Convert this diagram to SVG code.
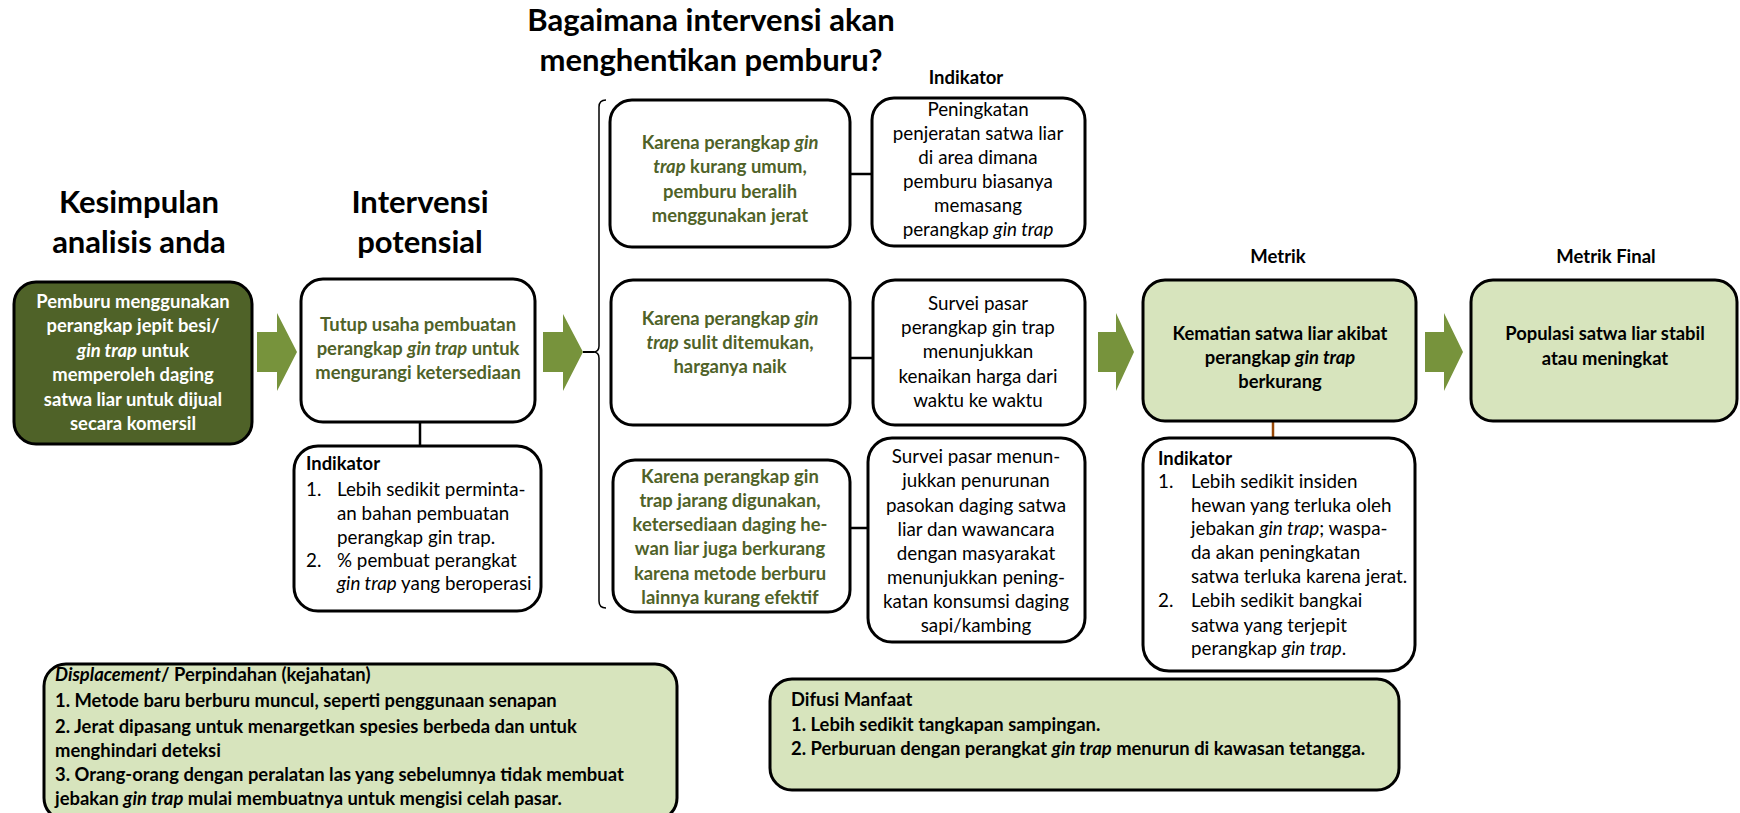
<svg xmlns="http://www.w3.org/2000/svg" width="1740" height="813" viewBox="0 0 1740 813">
  <defs>
    <style>
      text { font-family: Lato, "Open Sans", sans-serif; }
      .h1 { font-size: 31px; font-weight: bold; fill: #000; text-anchor: middle; }
      .h2 { font-size: 18.5px; font-weight: bold; fill: #000; text-anchor: middle; }
      .box { stroke: #000; stroke-width: 3; fill: #fff; }
      .dark { fill: #4f6228; }
      .light { fill: #d7e4bd; }
      .wt { font-size: 18.4px; font-weight: bold; fill: #fff; text-anchor: middle; }
      .gt { font-size: 18.4px; font-weight: bold; fill: #4f6228; text-anchor: middle; }
      .bt { font-size: 18.4px; font-weight: bold; fill: #000; text-anchor: middle; }
      .nt { font-size: 18.8px; fill: #000; text-anchor: middle; }
      .lt { font-size: 18.8px; fill: #000; }
      .lb { font-size: 18.4px; font-weight: bold; fill: #000; }
      .arrow { fill: #77933c; }
      .link { stroke: #000; stroke-width: 2.5; fill: none; }
      .it { font-style: italic; }
    </style>
  </defs>

  <!-- column headings -->
  <g id="headings">
    <text class="h1" x="139" y="213">Kesimpulan</text>
    <text class="h1" x="139" y="253">analisis anda</text>
    <text class="h1" x="420" y="213">Intervensi</text>
    <text class="h1" x="420" y="253">potensial</text>
    <text class="h1" x="711" y="31">Bagaimana intervensi akan</text>
    <text class="h1" x="711" y="71">menghentikan pemburu?</text>
    <text class="h2" x="966" y="84">Indikator</text>
    <text class="h2" x="1278" y="263">Metrik</text>
    <text class="h2" x="1606" y="263">Metrik Final</text>
  </g>

  <!-- connectors: block arrows, bracket and joining lines -->
  <g id="connectors">
    <path class="arrow" d="M257 332 H277 V313 L297 352 L277 391 V372 H257 Z"/>
    <path class="arrow" d="M543 332 H563 V314 L583 352 L563 391 V372 H543 Z"/>
    <path class="arrow" d="M1098 332 H1116 V313 L1134 352 L1116 391 V372 H1098 Z"/>
    <path class="arrow" d="M1425 332 H1444 V313 L1463 352 L1444 391 V372 H1425 Z"/>
    <path d="M606 100 Q599 100 599 107 V346 Q599 352 593 352 Q599 352 599 358 V601 Q599 608 606 608" stroke="#000" stroke-width="1.5" fill="none"/>
    <line x1="583" y1="352" x2="594" y2="352" stroke="#000" stroke-width="2"/>
    <line class="link" x1="420" y1="422" x2="420" y2="446"/>
    <line class="link" x1="850" y1="174" x2="872" y2="174"/>
    <line class="link" x1="850" y1="358" x2="873" y2="358"/>
    <line class="link" x1="850" y1="528" x2="868" y2="528"/>
    <line x1="1273" y1="421" x2="1273" y2="438" stroke="#984807" stroke-width="2.5"/>
  </g>

  <g id="conclusion">
    <rect class="box dark" x="14" y="282" width="238" height="162" rx="22"/>
    <text class="wt" x="133" y="308">Pemburu menggunakan</text>
    <text class="wt" x="133" y="332">perangkap jepit besi/</text>
    <text class="wt" x="133" y="357"><tspan class="it">gin trap</tspan> untuk</text>
    <text class="wt" x="133" y="381">memperoleh daging</text>
    <text class="wt" x="133" y="406">satwa liar untuk dijual</text>
    <text class="wt" x="133" y="430">secara komersil</text>
  </g>

  <g id="intervention">
    <rect class="box" x="301" y="279" width="234" height="143" rx="22"/>
    <text class="gt" x="418" y="331">Tutup usaha pembuatan</text>
    <text class="gt" x="418" y="355">perangkap <tspan class="it">gin trap</tspan> untuk</text>
    <text class="gt" x="418" y="379">mengurangi ketersediaan</text>
  </g>

  <g id="intervention-indicator">
    <rect class="box" x="294" y="446" width="247" height="165" rx="24"/>
    <text class="lb" x="306" y="470">Indikator</text>
    <text class="lt" x="306" y="496">1.</text>
    <text class="lt" x="337" y="496">Lebih sedikit perminta-</text>
    <text class="lt" x="337" y="520">an bahan pembuatan</text>
    <text class="lt" x="337" y="544">perangkap gin trap.</text>
    <text class="lt" x="306" y="567">2.</text>
    <text class="lt" x="337" y="567">% pembuat perangkat</text>
    <text class="lt" x="337" y="590"><tspan class="it">gin trap</tspan> yang beroperasi</text>
  </g>

  <g id="mechanism-1">
    <rect class="box" x="610" y="100" width="240" height="147" rx="22"/>
    <text class="gt" x="730" y="149">Karena perangkap <tspan class="it">gin</tspan></text>
    <text class="gt" x="730" y="173"><tspan class="it">trap</tspan> kurang umum,</text>
    <text class="gt" x="730" y="198">pemburu beralih</text>
    <text class="gt" x="730" y="222">menggunakan jerat</text>
  </g>

  <g id="indicator-1">
    <rect class="box" x="872" y="98" width="213" height="148" rx="22"/>
    <text class="nt" x="978" y="116">Peningkatan</text>
    <text class="nt" x="978" y="140">penjeratan satwa liar</text>
    <text class="nt" x="978" y="164">di area dimana</text>
    <text class="nt" x="978" y="188">pemburu biasanya</text>
    <text class="nt" x="978" y="212">memasang</text>
    <text class="nt" x="978" y="236">perangkap <tspan class="it">gin trap</tspan></text>
  </g>

  <g id="mechanism-2">
    <rect class="box" x="611" y="280" width="239" height="145" rx="22"/>
    <text class="gt" x="730" y="325">Karena perangkap <tspan class="it">gin</tspan></text>
    <text class="gt" x="730" y="349"><tspan class="it">trap</tspan> sulit ditemukan,</text>
    <text class="gt" x="730" y="373">harganya naik</text>
  </g>

  <g id="indicator-2">
    <rect class="box" x="873" y="280" width="212" height="145" rx="22"/>
    <text class="nt" x="978" y="310">Survei pasar</text>
    <text class="nt" x="978" y="334">perangkap gin trap</text>
    <text class="nt" x="978" y="358">menunjukkan</text>
    <text class="nt" x="978" y="383">kenaikan harga dari</text>
    <text class="nt" x="978" y="407">waktu ke waktu</text>
  </g>

  <g id="mechanism-3">
    <rect class="box" x="613" y="460" width="237" height="152" rx="22"/>
    <text class="gt" x="730" y="483">Karena perangkap gin</text>
    <text class="gt" x="730" y="507">trap jarang digunakan,</text>
    <text class="gt" x="730" y="531">ketersediaan daging he-</text>
    <text class="gt" x="730" y="555">wan liar juga berkurang</text>
    <text class="gt" x="730" y="580">karena metode berburu</text>
    <text class="gt" x="730" y="604">lainnya kurang efektif</text>
  </g>

  <g id="indicator-3">
    <rect class="box" x="868" y="438" width="217" height="204" rx="24"/>
    <text class="nt" x="976" y="463">Survei pasar menun-</text>
    <text class="nt" x="976" y="487">jukkan penurunan</text>
    <text class="nt" x="976" y="512">pasokan daging satwa</text>
    <text class="nt" x="976" y="536">liar dan wawancara</text>
    <text class="nt" x="976" y="560">dengan masyarakat</text>
    <text class="nt" x="976" y="584">menunjukkan pening-</text>
    <text class="nt" x="976" y="608">katan konsumsi daging</text>
    <text class="nt" x="976" y="632">sapi/kambing</text>
  </g>

  <g id="metric">
    <rect class="box light" x="1143" y="280" width="273" height="141" rx="22"/>
    <text class="bt" x="1280" y="340">Kematian satwa liar akibat</text>
    <text class="bt" x="1280" y="364">perangkap <tspan class="it">gin trap</tspan></text>
    <text class="bt" x="1280" y="388">berkurang</text>
  </g>

  <g id="metric-indicator">
    <rect class="box" x="1143" y="438" width="272" height="233" rx="26"/>
    <text class="lb" x="1158" y="465">Indikator</text>
    <text class="lt" x="1158" y="488">1.</text>
    <text class="lt" x="1191" y="488">Lebih sedikit insiden</text>
    <text class="lt" x="1191" y="512">hewan yang terluka oleh</text>
    <text class="lt" x="1191" y="535">jebakan <tspan class="it">gin trap</tspan>; waspa-</text>
    <text class="lt" x="1191" y="559">da akan peningkatan</text>
    <text class="lt" x="1191" y="583">satwa terluka karena jerat.</text>
    <text class="lt" x="1158" y="607">2.</text>
    <text class="lt" x="1191" y="607">Lebih sedikit bangkai</text>
    <text class="lt" x="1191" y="632">satwa yang terjepit</text>
    <text class="lt" x="1191" y="655">perangkap <tspan class="it">gin trap</tspan>.</text>
  </g>

  <g id="final-metric">
    <rect class="box light" x="1471" y="280" width="266" height="141" rx="22"/>
    <text class="bt" x="1605" y="340">Populasi satwa liar stabil</text>
    <text class="bt" x="1605" y="365">atau meningkat</text>
  </g>

  <g id="displacement">
    <rect class="box light" x="44" y="664" width="633" height="156" rx="22"/>
    <text class="lb" x="55" y="681"><tspan class="it">Displacement</tspan>/ Perpindahan (kejahatan)</text>
    <text class="lb" x="55" y="707">1. Metode baru berburu muncul, seperti penggunaan senapan</text>
    <text class="lb" x="55" y="733">2. Jerat dipasang untuk menargetkan spesies berbeda dan untuk</text>
    <text class="lb" x="55" y="757">menghindari deteksi</text>
    <text class="lb" x="55" y="781">3. Orang-orang dengan peralatan las yang sebelumnya tidak membuat</text>
    <text class="lb" x="55" y="805">jebakan <tspan class="it">gin trap</tspan> mulai membuatnya untuk mengisi celah pasar.</text>
  </g>

  <g id="diffusion">
    <rect class="box light" x="770" y="679" width="629" height="111" rx="22"/>
    <text class="lb" x="791" y="706">Difusi Manfaat</text>
    <text class="lb" x="791" y="731">1. Lebih sedikit tangkapan sampingan.</text>
    <text class="lb" x="791" y="755">2. Perburuan dengan perangkat <tspan class="it">gin trap</tspan> menurun di kawasan tetangga.</text>
  </g>
</svg>
